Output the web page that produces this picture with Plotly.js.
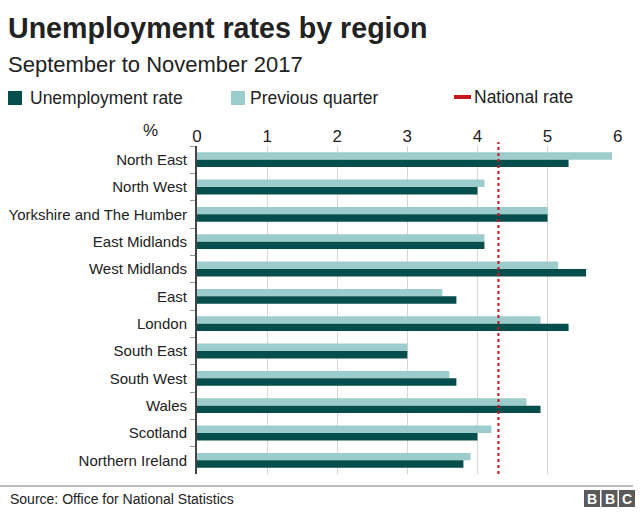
<!DOCTYPE html>
<html><head><meta charset="utf-8">
<script src="https://cdn.plot.ly/plotly-3.0.1.min.js"></script>
<style>body{margin:0;background:#fff}#chart{width:640px;height:520px}</style>
</head><body><div id="chart"></div>
<script>
const regions = ["North East","North West","Yorkshire and The Humber","East Midlands","West Midlands","East","London","South East","South West","Wales","Scotland","Northern Ireland"];
const unemploymentRate = [5.3,4.0,5.0,4.1,5.55,3.7,5.3,3.0,3.7,4.9,4.0,3.8];
const previousQuarter = [5.92,4.1,5.0,4.1,5.15,3.5,4.9,3.0,3.6,4.7,4.2,3.9];
const nationalRate = 4.3;
const xTicks = [0,1,2,3,4,5,6];

const M = {l:197, r:22, t:146, b:46};
const W = 640 - M.l - M.r, H = 520 - M.t - M.b;
const px = x => (x - M.l) / W;
const py = y => (520 - M.b - y) / H;

const DARK = "#054e4b", LIGHT = "#9ccccc", RED = "#c4161c";
const FONT = "Liberation Sans, Arial, sans-serif";

const traces = [
  {type:"bar", orientation:"h", name:"Previous quarter", y:regions, x:previousQuarter,
   marker:{color:LIGHT}, hoverinfo:"x+y"},
  {type:"bar", orientation:"h", name:"Unemployment rate", y:regions, x:unemploymentRate,
   marker:{color:DARK}, hoverinfo:"x+y"}
];

const shapes = [
  {type:"line", xref:"x", yref:"paper", x0:nationalRate, x1:nationalRate, y0:0, y1:py(142),
   line:{color:RED, width:2, dash:"dot"}},
  // legend swatches
  {type:"rect", xref:"paper", yref:"paper", x0:px(8), x1:px(22), y0:py(105), y1:py(91), fillcolor:DARK, line:{width:0}},
  {type:"rect", xref:"paper", yref:"paper", x0:px(231), x1:px(245), y0:py(105), y1:py(91), fillcolor:LIGHT, line:{width:0}},
  {type:"rect", xref:"paper", yref:"paper", x0:px(454), x1:px(471), y0:py(99), y1:py(95), fillcolor:RED, line:{width:0}},
  // footer line
  {type:"line", xref:"paper", yref:"paper", x0:px(0), x1:px(633), y0:py(486), y1:py(486), line:{color:"#bbbbbb", width:2}},
  // BBC blocks
  {type:"rect", xref:"paper", yref:"paper", x0:px(584), x1:px(600), y0:py(507), y1:py(490), fillcolor:"#5a5a5a", line:{width:0}},
  {type:"rect", xref:"paper", yref:"paper", x0:px(601.5), x1:px(617.5), y0:py(507), y1:py(490), fillcolor:"#5a5a5a", line:{width:0}},
  {type:"rect", xref:"paper", yref:"paper", x0:px(619), x1:px(635), y0:py(507), y1:py(490), fillcolor:"#5a5a5a", line:{width:0}}
];

const ann = (text, x, y, size, opts={}) => Object.assign({text, xref:"paper", yref:"paper", x:px(x), y:py(y),
  xanchor:"left", yanchor:"middle", showarrow:false, font:{family:FONT, size, color:"#222"}}, opts);

const annotations = [
  ann("<b>Unemployment rates by region</b>", 6, 28, 28.6),
  ann("September to November 2017", 6, 64, 22),
  ann("Unemployment rate", 28, 98, 17.5),
  ann("Previous quarter", 248, 98, 17.5),
  ann("National rate", 472, 97, 17.5),
  ann("%", 160, 130, 17, {xanchor:"right"}),
  ann("Source: Office for National Statistics", 8, 499, 14),
  ann("<b>B</b>", 592, 498.5, 14, {xanchor:"center", font:{family:FONT, size:14, color:"#fff"}}),
  ann("<b>B</b>", 609.5, 498.5, 14, {xanchor:"center", font:{family:FONT, size:14, color:"#fff"}}),
  ann("<b>C</b>", 627, 498.5, 14, {xanchor:"center", font:{family:FONT, size:14, color:"#fff"}})
];

const layout = {
  width:640, height:520, margin:M, paper_bgcolor:"#fff", plot_bgcolor:"#fff",
  showlegend:false, barmode:"group", bargap:0.46, bargroupgap:0,
  font:{family:FONT, color:"#222"},
  xaxis:{side:"top", range:[0,6.005], tickvals:xTicks, ticktext:xTicks.map(String), showgrid:true, gridcolor:"#d6d6d6", gridwidth:1,
         zeroline:false, showline:false, ticks:"", tickfont:{size:17, color:"#222"}, fixedrange:true},
  yaxis:{type:"category", autorange:"reversed", showline:true, linecolor:"#444", linewidth:2, ticks:"outside", tickson:"boundaries",
         ticklen:5, tickcolor:"#999", ticklabelstandoff:5, tickfont:{size:15, color:"#222"}, showgrid:false, fixedrange:true},
  shapes, annotations
};
Plotly.newPlot("chart", traces, layout, {displayModeBar:false, staticPlot:true});
</script></body></html>
